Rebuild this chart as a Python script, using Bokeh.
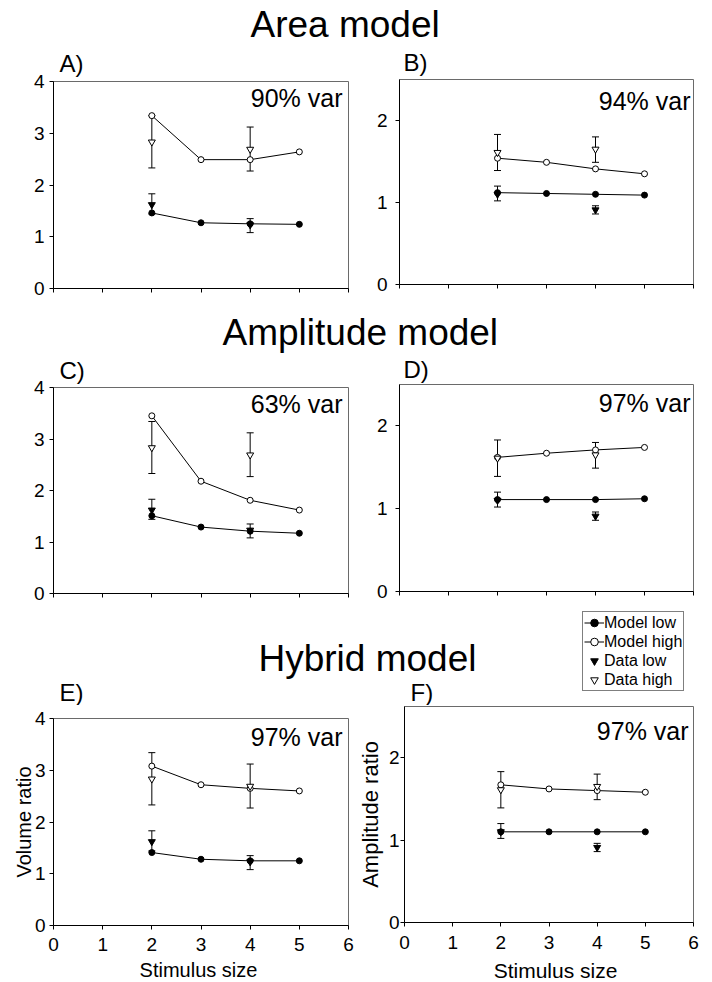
from bokeh.plotting import figure
from bokeh.models import (ColumnDataSource, Range1d, FixedTicker, Label, Whisker,
                          TeeHead, Legend, LegendItem, Title)
from bokeh.layouts import column, row
from bokeh.embed import file_html
from bokeh.resources import INLINE

FONT = "Liberation Sans"
NAN = float("nan")

# ---------------- data ----------------
stim = [2, 3, 4, 5]
data_stim = [2, 4]
x_ticks = [0, 1, 2, 3, 4, 5, 6]
vol_ticks = [0, 1, 2, 3, 4]
amp_ticks = [0, 1, 2]

# measured data, volume ratio (panels A, C, E)
vol_data_low = [1.62, 1.23]
vol_data_low_lo = [1.44, 1.08]
vol_data_low_hi = [1.83, 1.35]
vol_data_high = [2.83, 2.69]
vol_data_high_lo = [2.33, 2.27]
vol_data_high_hi = [3.34, 3.12]

# measured data, amplitude ratio (panels B, D, F)
amp_data_low = [1.10, 0.91]
amp_data_low_lo = [1.02, 0.86]
amp_data_low_hi = [1.20, 0.96]
amp_data_high = [1.61, 1.65]
amp_data_high_lo = [1.39, 1.49]
amp_data_high_hi = [1.83, 1.80]

# model predictions
area_vol_low = [1.46, 1.27, 1.25, 1.24]
area_vol_high = [3.34, 2.49, 2.49, 2.64]
area_amp_low = [1.12, 1.11, 1.10, 1.09]
area_amp_high = [1.54, 1.49, 1.41, 1.35]
ampl_vol_low = [1.51, 1.29, 1.21, 1.17]
ampl_vol_high = [3.45, 2.18, 1.81, 1.62]
ampl_amp_low = [1.11, 1.11, 1.11, 1.12]
ampl_amp_high = [1.62, 1.67, 1.71, 1.74]
hyb_vol_low = [1.41, 1.28, 1.25, 1.25]
hyb_vol_high = [3.08, 2.72, 2.65, 2.60]
hyb_amp_low = [1.10, 1.10, 1.10, 1.10]
hyb_amp_high = [1.67, 1.62, 1.60, 1.58]

var_texts = ["90% var", "94% var", "63% var", "97% var", "97% var", "97% var"]
panel_letters = ["A)", "B)", "C)", "D)", "E)", "F)"]
section_titles = ["Area model", "Amplitude model", "Hybrid model"]
legend_labels = ["Model low", "Model high", "Data low", "Data high"]
x_title = "Stimulus size"
y_titles = ["Volume ratio", "Amplitude ratio"]

LEFT_W, RIGHT_W = 354, 358
BASE_SHIFT = 0.37  # empirical offset of Label alphabetic baseline (in em)


def strip(h, texts):
    p = figure(width=LEFT_W + RIGHT_W, height=h, x_range=Range1d(0, LEFT_W + RIGHT_W),
               y_range=Range1d(h, 0), x_axis_type=None, y_axis_type=None,
               toolbar_location=None, output_backend="svg", title=None, min_border=0,
               min_border_left=0, min_border_right=0, min_border_top=0,
               min_border_bottom=0, outline_line_color=None)
    p.grid.visible = False
    for text, x, base, fs, align in texts:
        p.add_layout(Label(x=x, y=base - BASE_SHIFT * fs, text=text, text_font=FONT,
                           text_font_size=f"{fs}px", text_color="black",
                           text_baseline="alphabetic", text_align=align))
    return p


def panel(idx, m_low, m_high, vol, ymax, geom, show_x, ylabel=None, letter=None):
    side, top, fh, bottom, ytick_standoff, var_dx, var_down = geom
    W = LEFT_W if side == "L" else RIGHT_W
    bl = 53 if side == "L" else 45
    fw = 295 if side == "L" else 294
    br = W - bl - fw
    H = top + fh + bottom
    kw = {}
    if letter is not None:
        offset, standoff = letter
        kw["title"] = Title(text=panel_letters[idx], align="left", offset=offset,
                            standoff=standoff, vertical_align="top",
                            text_font=FONT, text_font_size="24px",
                            text_font_style="normal", text_color="black")
    else:
        kw["title"] = None
    p = figure(width=W, height=H, x_range=Range1d(0, 6), y_range=Range1d(0, ymax),
               toolbar_location=None, output_backend="svg",
               min_border_left=bl, min_border_right=br, min_border_top=top,
               min_border_bottom=bottom, outline_line_color="#6a6a6a", **kw)
    p.grid.visible = False
    ppx = fw / 6.0
    ppy = fh / ymax

    xa = p.xaxis[0]
    if show_x:
        xa.ticker = FixedTicker(ticks=x_ticks)
        xa.major_tick_out = 4
        xa.major_tick_in = 0
        xa.major_label_text_font = FONT
        xa.major_label_text_font_size = "19px"
        xa.major_label_text_color = "black"
        xa.major_label_standoff = 8 if vol else 9
        xa.minor_tick_line_color = None
    else:
        xa.ticker = FixedTicker(ticks=[], minor_ticks=x_ticks)
        xa.minor_tick_out = 4
        xa.minor_tick_in = 0
        xa.minor_tick_line_color = "black"
        xa.major_label_standoff = 0
    xa.axis_line_color = "black"
    xa.major_tick_line_color = "black"

    ya = p.yaxis[0]
    ya.ticker = FixedTicker(ticks=vol_ticks if vol else amp_ticks)
    ya.major_tick_out = 4
    ya.major_tick_in = 0
    ya.minor_tick_line_color = None
    ya.major_label_text_font = FONT
    ya.major_label_text_font_size = "19px"
    ya.major_label_text_color = "black"
    ya.major_label_standoff = ytick_standoff
    ya.axis_line_color = "black"
    ya.major_tick_line_color = "black"
    if ylabel:
        ya.axis_label = ylabel
        ya.axis_label_text_font = FONT
        ya.axis_label_text_font_style = "normal"
        ya.axis_label_text_color = "black"
        ya.axis_label_text_font_size = "20px" if vol else "22px"
        ya.axis_label_standoff = -3 if vol else 3

    if vol:
        dl, dll, dlh = vol_data_low, vol_data_low_lo, vol_data_low_hi
        dh, dhl, dhh = vol_data_high, vol_data_high_lo, vol_data_high_hi
    else:
        dl, dll, dlh = amp_data_low, amp_data_low_lo, amp_data_low_hi
        dh, dhl, dhh = amp_data_high, amp_data_high_lo, amp_data_high_hi

    msrc = ColumnDataSource(dict(x=stim, low=m_low, high=m_high))
    dsrc = ColumnDataSource(dict(x=data_stim, low=dl, low_lo=dll, low_hi=dlh,
                                 high=dh, high_lo=dhl, high_hi=dhh))

    for lo, hi in (("low_lo", "low_hi"), ("high_lo", "high_hi")):
        p.add_layout(Whisker(source=dsrc, base="x", lower=lo, upper=hi,
                             line_color="black", line_width=1,
                             upper_head=TeeHead(size=7, line_color="black", line_width=1),
                             lower_head=TeeHead(size=7, line_color="black", line_width=1)))

    p.line("x", "low", source=msrc, line_color="black", line_width=1)
    p.line("x", "high", source=msrc, line_color="black", line_width=1)
    p.scatter("x", "low", source=msrc, marker="circle", size=6,
              fill_color="black", line_color="black")
    p.scatter("x", "high", source=msrc, marker="circle", size=6,
              fill_color="white", line_color="black")
    p.scatter("x", "low", source=dsrc, marker="inverted_triangle", size=7,
              fill_color="black", line_color="black")
    p.scatter("x", "high", source=dsrc, marker="inverted_triangle", size=7,
              fill_color="white", line_color="black")

    fs = 25
    p.add_layout(Label(x=6 - var_dx / ppx, y=ymax - (var_down - BASE_SHIFT * fs) / ppy,
                       text=var_texts[idx], text_font=FONT, text_font_size=f"{fs}px",
                       text_color="black", text_baseline="alphabetic", text_align="right"))
    return p


# geometry: side, border top, frame height, border bottom, y tick standoff,
#           var right inset, var baseline drop below frame top
gA = ("L", 37, 207, 12, 5, 6, 26)
gB = ("R", 35, 205, 16, 8, 3, 31)
gC = ("L", 34, 206, 12, 5, 6, 26)
gD = ("R", 31, 207, 14, 8, 3, 28)
gE = ("L", 13, 207, 35, 4, 6, 28)
gF = ("R", 1, 216, 38, 1, 5, 34)

pA = panel(0, area_vol_low, area_vol_high, True, 4, gA, False, letter=(6, 5))
pB = panel(1, area_amp_low, area_amp_high, False, 2.5, gB, False, letter=(4, 3))
pC = panel(2, ampl_vol_low, ampl_vol_high, True, 4, gC, False, letter=(6, 3))
pD = panel(3, ampl_amp_low, ampl_amp_high, False, 2.5, gD, False, letter=(4, -1))
pE = panel(4, hyb_vol_low, hyb_vol_high, True, 4, gE, True, y_titles[0])
pF = panel(5, hyb_amp_low, hyb_amp_high, False, 2.62, gF, True, y_titles[1])

# strips holding section titles, some panel letters and x titles
# (text, x, baseline, font px, align)
t1 = strip(44, [(section_titles[0], 250, 37.5, 37, "left")])
t2 = strip(53, [(section_titles[1], 222, 46, 37, "left")])
t3 = strip(100, [(section_titles[2], 258, 67, 37, "left"),
                 (panel_letters[4], 59, 96, 24, "left"),
                 (panel_letters[5], 410, 95.5, 24, "left")])
t4 = strip(22, [(x_title, 198, 17, 20, "center"),
                (x_title, 555, 17.5, 21, "center")])

# legend (in the third strip); legend-only renderers carry no visible points
r_ml = t3.line([NAN], [NAN], line_color="black", line_width=1)
s_ml = t3.scatter([NAN], [NAN], marker="circle", size=7, fill_color="black",
                  line_color="black")
r_mh = t3.line([NAN], [NAN], line_color="black", line_width=1)
s_mh = t3.scatter([NAN], [NAN], marker="circle", size=7, fill_color="white",
                  line_color="black")
s_dl = t3.scatter([NAN], [NAN], marker="inverted_triangle", size=10, fill_color="black",
                  line_color="black")
s_dh = t3.scatter([NAN], [NAN], marker="inverted_triangle", size=10, fill_color="white",
                  line_color="black")
legend = Legend(items=[LegendItem(label=legend_labels[0], renderers=[r_ml, s_ml]),
                       LegendItem(label=legend_labels[1], renderers=[r_mh, s_mh]),
                       LegendItem(label=legend_labels[2], renderers=[s_dl]),
                       LegendItem(label=legend_labels[3], renderers=[s_dh])],
                location=(582, 14), orientation="vertical",
                label_text_font=FONT, label_text_font_size="16px", label_text_color="black",
                glyph_width=20, glyph_height=19, label_height=19, label_standoff=0,
                padding=1, spacing=0, margin=0, border_line_color="black",
                border_line_width=1, background_fill_color="white")
t3.add_layout(legend)

# each panel wrapped on its own so that the frames of a row are not forced to align
layout = column(t1, row(column(pA), column(pB)), t2, row(column(pC), column(pD)),
                t3, row(column(pE), column(pF)), t4)

open("out.html", "w").write(file_html(layout, INLINE))
